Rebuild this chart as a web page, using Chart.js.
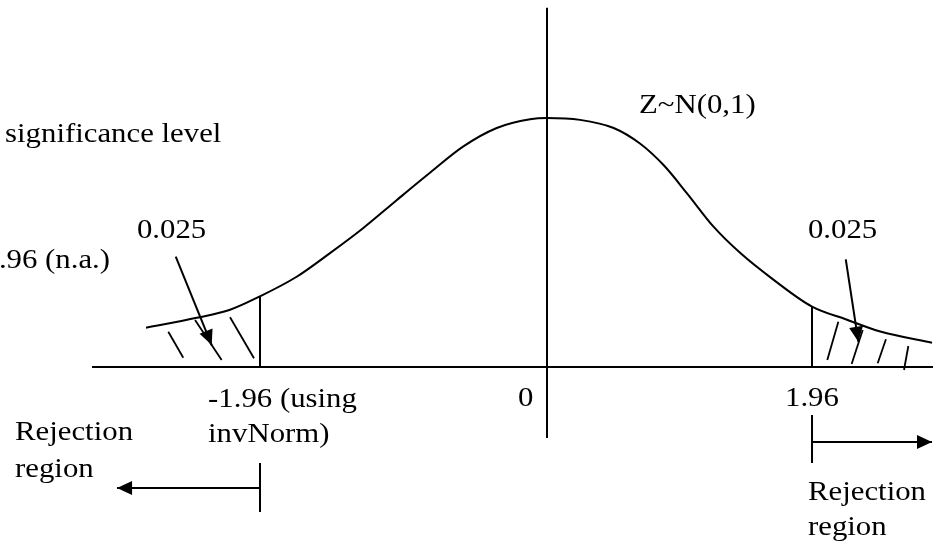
<!DOCTYPE html>
<html><head><meta charset="utf-8">
<script src="https://cdn.jsdelivr.net/npm/chart.js@4/dist/chart.umd.min.js"></script>
<style>html,body{margin:0;padding:0;background:#fff}canvas{display:block}</style>
</head><body>
<canvas id="c" width="944" height="546"></canvas>
<script>
// ---- data (x in z units, y in density units) ----
const curveZ = [-2.864,-2.502,-2.264,-2.055,-1.788,-1.55,-1.314,-1.074,-0.836,-0.6,-0.359,-0.121,0,0.236,0.476,0.664,0.834,1.0,1.191,1.381,1.619,1.893,2.143,2.381,2.75];
const curveDensity = [0.063,0.079,0.092,0.113,0.145,0.183,0.223,0.268,0.312,0.354,0.384,0.398,0.4,0.397,0.384,0.359,0.324,0.279,0.225,0.183,0.140,0.097,0.076,0.057,0.039];
const criticalZ = [-2.05, 1.893];          // where the -1.96 / 1.96 boundaries are drawn
const criticalHeight = [0.113, 0.097];
const zAxisRange = [-3.25, 2.757];
const densityAxisRange = [-0.114, 0.577];
const tailAreas = ["0.025", "0.025"];
const tickLabels = ["-1.96 (using", "0", "1.96"];
const leftHatch = [[-2.705,0.0567,-2.598,0.0149],[-2.514,0.0755,-2.324,0.0112],[-2.264,0.0798,-2.093,0.0140]];
const rightHatch = [[2.081,0.0728,2.002,0.0112],[2.255,0.0594,2.176,0.0048],[2.421,0.0445,2.362,0.0059],[2.581,0.0337,2.55,-0.0048]];
const tailArrows = [[-2.652,0.1772,-2.395,0.0353],[2.134,0.173,2.224,0.0406]];
const rejectTicks = [[-2.05,-0.1542,-2.05,-0.2329],[1.893,-0.0771,1.893,-0.1542]];
const rejectArrows = [[-2.05,-0.1944,-3.071,-0.1944],[1.893,-0.1205,2.75,-0.1205]];

// ---- build datasets ----
const line = (pts, extra) => Object.assign({data: pts, showLine: true, borderColor: '#000', borderWidth: 2, pointRadius: 0, tension: 0, fill: false}, extra || {});
const seg = s => [{x: s[0], y: s[1]}, {x: s[2], y: s[3]}];
const datasets = [];
datasets.push(line(curveZ.map((z, i) => ({x: z, y: curveDensity[i]})), {cubicInterpolationMode: 'monotone'}));
datasets.push(line([{x: zAxisRange[0], y: 0}, {x: zAxisRange[1], y: 0}]));
datasets.push(line([{x: 0, y: densityAxisRange[0]}, {x: 0, y: densityAxisRange[1]}]));
criticalZ.forEach((z, i) => datasets.push(line([{x: z, y: 0}, {x: z, y: criticalHeight[i]}])));
leftHatch.concat(rightHatch).forEach(s => datasets.push(line(seg(s), {borderWidth: 1.8})));
tailArrows.forEach(s => datasets.push(line(seg(s), {arrow: true})));
rejectTicks.forEach(s => datasets.push(line(seg(s))));
rejectArrows.forEach(s => datasets.push(line(seg(s), {arrow: true})));

// ---- text annotations (positions in data units) ----
const labels = [
  {t: "significance level", x: -3.871, y: 0.3614, a: 'left'},
  {t: "1.96 (n.a.)", x: -3.121, y: 0.159, a: 'right'},
  {t: tailAreas[0], x: -2.929, y: 0.2072, a: 'left'},
  {t: tailAreas[1], x: 1.864, y: 0.2072, a: 'left'},
  {t: "Z~N(0,1)", x: 0.657, y: 0.408, a: 'left'},
  {t: tickLabels[0], x: -2.421, y: -0.0643, a: 'left'},
  {t: "invNorm)", x: -2.421, y: -0.1205, a: 'left'},
  {t: tickLabels[1], x: -0.207, y: -0.0627, a: 'left'},
  {t: tickLabels[2], x: 1.70, y: -0.0627, a: 'left'},
  {t: "Rejection", x: -3.80, y: -0.1173, a: 'left'},
  {t: "region", x: -3.80, y: -0.1767, a: 'left'},
  {t: "Rejection", x: 1.864, y: -0.2137, a: 'left'},
  {t: "region", x: 1.864, y: -0.2699, a: 'left'}
];

const arrowPlugin = {
  id: 'arrows',
  afterDatasetsDraw(chart) {
    const ctx = chart.ctx;
    chart.data.datasets.forEach((ds, i) => {
      if (!ds.arrow) return;
      const pts = chart.getDatasetMeta(i).data;
      const a = pts[pts.length - 2], b = pts[pts.length - 1];
      const ang = Math.atan2(b.y - a.y, b.x - a.x);
      ctx.save();
      ctx.translate(b.x, b.y);
      ctx.rotate(ang);
      ctx.beginPath();
      ctx.moveTo(0, 0); ctx.lineTo(-15, -7); ctx.lineTo(-15, 7); ctx.closePath();
      ctx.fillStyle = '#000'; ctx.fill();
      ctx.restore();
    });
  }
};
const textPlugin = {
  id: 'texts',
  afterDatasetsDraw(chart) {
    const ctx = chart.ctx, sx = chart.scales.x, sy = chart.scales.y;
    ctx.save();
    ctx.fillStyle = '#000';
    ctx.font = '28px "Liberation Serif", "Times New Roman", serif';
    ctx.textBaseline = 'alphabetic';
    labels.forEach(l => {
      ctx.save();
      ctx.translate(sx.getPixelForValue(l.x), sy.getPixelForValue(l.y));
      ctx.scale(1.1, 1);
      ctx.textAlign = l.a;
      ctx.fillText(l.t, 0, 0);
      ctx.restore();
    });
    ctx.restore();
  }
};

new Chart(document.getElementById('c'), {
  type: 'scatter',
  data: {datasets},
  options: {
    responsive: false,
    animation: false,
    layout: {padding: 0},
    plugins: {legend: {display: false}, tooltip: {enabled: false}},
    scales: {
      x: {type: 'linear', display: false, min: -547/140, max: 397/140},
      y: {type: 'linear', display: false, min: -179/622.5, max: 367/622.5}
    }
  },
  plugins: [arrowPlugin, textPlugin]
});
</script>
</body></html>
